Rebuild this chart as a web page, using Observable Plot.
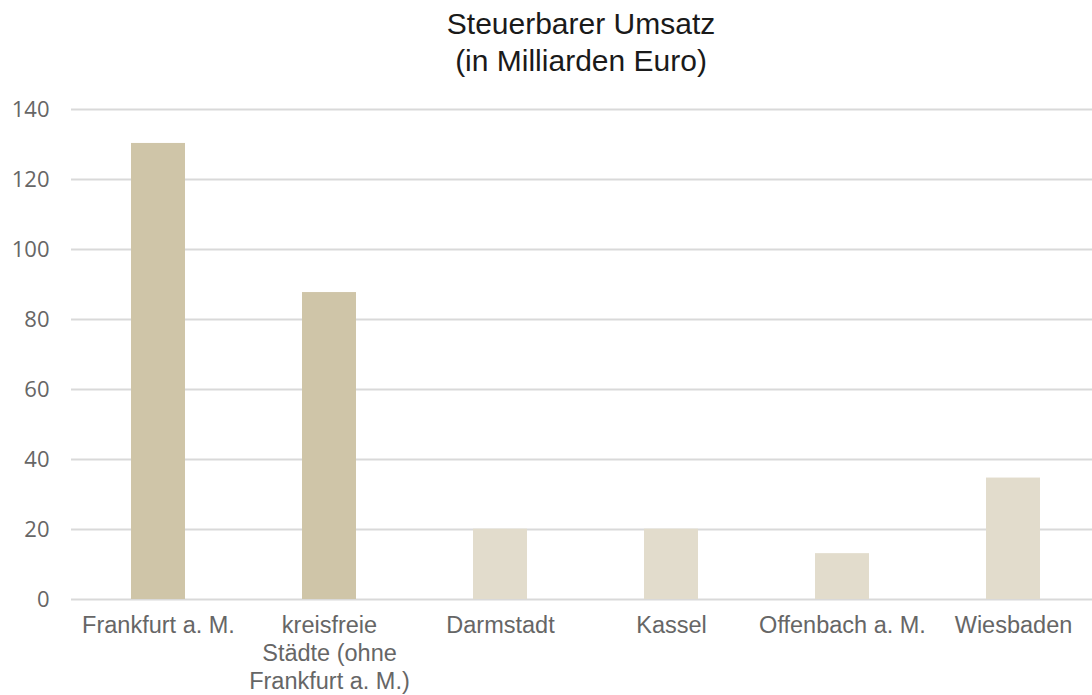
<!DOCTYPE html>
<html>
<head>
<meta charset="utf-8">
<script src="https://cdn.jsdelivr.net/npm/d3@7"></script>
<script src="https://cdn.jsdelivr.net/npm/@observablehq/plot@0.6"></script>
<style>
  html, body { margin: 0; padding: 0; background: #fff; }
  #title { width: 1092px; box-sizing: border-box; padding: 5px 0 0 70px; text-align: center;
           font-family: "Liberation Sans", Arial, sans-serif; font-size: 30px; line-height: 37px; color: #1a1a1a; height: 80px; }
  svg { display: block; }
</style>
</head>
<body>
<div id="title">Steuerbarer Umsatz<br>(in Milliarden Euro)</div>
<div id="chart"></div>
<script>
const categories = ["Frankfurt a. M.", "kreisfreie\nStädte (ohne\nFrankfurt a. M.)", "Darmstadt", "Kassel", "Offenbach a. M.", "Wiesbaden"];
const values = [130.3, 87.7, 20.1, 20.1, 13.1, 34.7];
const yTicks = [0, 20, 40, 60, 80, 100, 120, 140];

const data = categories.map((c, i) => ({category: c, value: values[i], idx: i}));
const dark = "#CFC5A8", light = "#E2DCCC";

const chart = Plot.plot({
  width: 1092,
  height: 615,
  marginTop: 29,
  marginBottom: 96,
  marginLeft: 71,
  marginRight: 0,
  style: {fontFamily: "'Liberation Sans', Arial, sans-serif", background: "#fff"},
  x: {domain: categories, range: [71, 1099], paddingInner: 0.685, paddingOuter: 0.3425, align: 0.5, label: null},
  y: {domain: [0, 140], label: null},
  marks: [
    Plot.ruleY(yTicks, {stroke: "#d9d9d9", strokeWidth: 1.8}),
    Plot.barY(data, {x: "category", y: "value", fill: d => d.idx < 2 ? dark : light}),
    Plot.axisY(yTicks, {tickSize: 0, tickPadding: 22, fontSize: 22, fontFamily: "'Open Sans', sans-serif", fill: "#666666", label: null}),
    Plot.axisX({tickSize: 0, tickPadding: 14, fontSize: 23.5, fill: "#666666", label: null, lineHeight: 1.19})
  ]
});
document.getElementById("chart").appendChild(chart);
</script>
</body>
</html>
